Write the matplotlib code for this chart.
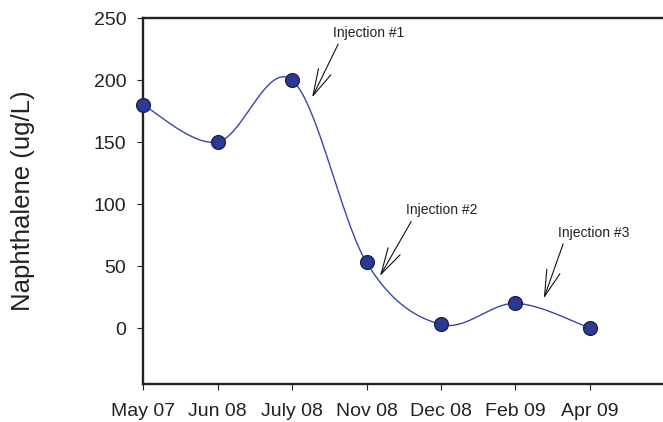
import numpy as np
import matplotlib
matplotlib.use("Agg")
import matplotlib.pyplot as plt

plt.rcParams['font.family'] = ['Liberation Sans', 'DejaVu Sans']

categories = ["May 07", "Jun 08", "July 08", "Nov 08", "Dec 08", "Feb 09", "Apr 09"]
values = [180, 150, 200, 53, 3, 20, 0]
yticks = [0, 50, 100, 150, 200, 250]
annotations = [
    ("Injection #1", (2.27, 186), (2.55, 238)),
    ("Injection #2", (3.18, 42), (3.53, 95)),
    ("Injection #3", (5.38, 24), (5.57, 77)),
]

fig = plt.figure(figsize=(6.63, 4.22), dpi=100)
ax = fig.add_axes([0.2157, 0.0900, 0.7843, 0.8673])

x = np.arange(len(values), dtype=float)
y = np.array(values, dtype=float)

# Excel-like smoothed line (Catmull-Rom Bezier) computed in roughly-pixel space
sx, sy = 74.5, 62 / 50
P = np.column_stack([x * sx, y * sy])
curve = []
n = len(P)
for i in range(n - 1):
    p0 = P[i - 1] if i > 0 else P[i]
    p1 = P[i]
    p2 = P[i + 1]
    p3 = P[i + 2] if i + 2 < n else P[i + 1]
    c1 = p1 + (p2 - p0) / 6
    c2 = p2 - (p3 - p1) / 6
    t = np.linspace(0, 1, 60)[:, None]
    seg = (1 - t) ** 3 * p1 + 3 * (1 - t) ** 2 * t * c1 + 3 * (1 - t) * t ** 2 * c2 + t ** 3 * p2
    curve.append(seg)
curve = np.vstack(curve)
ax.plot(curve[:, 0] / sx, curve[:, 1] / sy, color='#3a46a8', lw=1.0, zorder=2, clip_on=False)
ax.plot(x, y, 'o', ms=10, mfc='#2b3990', mec='#1c1f4a', mew=0.9, zorder=3, clip_on=False)

for txt, tip, tpos in annotations:
    ax.annotate('', xy=tip, xytext=(tpos[0] + 0.07, tpos[1] - 9),
                arrowprops=dict(arrowstyle='->,head_length=1.9,head_width=0.5',
                                color='#111111', lw=0.8, shrinkA=0, shrinkB=0))
    ax.text(tpos[0], tpos[1], txt, fontsize=10, color='#222222', ha='left', va='center')

ax.set_xlim(0, 6.98)
ax.set_ylim(-45, 250)
ax.set_xticks(x)
ax.set_xticklabels(categories)
ax.set_yticks(yticks)
ax.tick_params(axis='both', labelsize=14, colors='#222222', length=4, width=0.8, direction='out')
ax.tick_params(axis='x', pad=10)
ax.tick_params(axis='y', pad=8)
for s in ['left', 'top', 'bottom']:
    ax.spines[s].set_linewidth(1.7)
    ax.spines[s].set_color('#222222')
ax.spines['right'].set_visible(False)
ax.set_ylabel('Naphthalene (ug/L)', fontsize=18.5, color='#222222', labelpad=42)

fig.savefig('out.png', dpi=100)
